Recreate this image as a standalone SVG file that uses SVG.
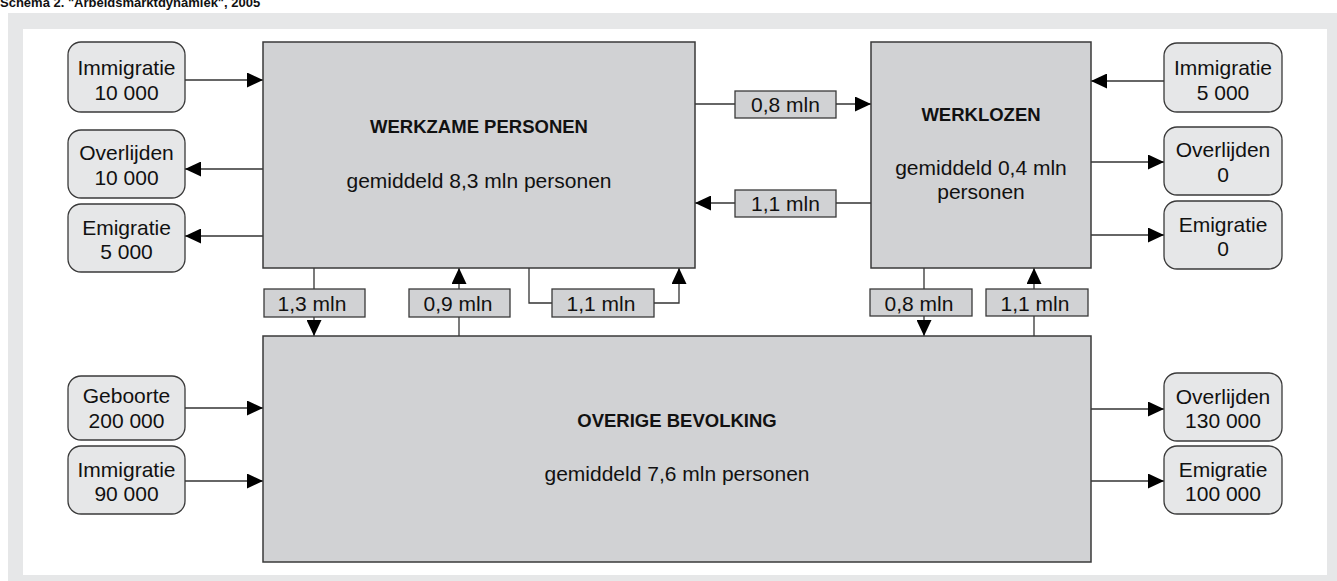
<svg xmlns="http://www.w3.org/2000/svg" width="1337" height="581" viewBox="0 0 1337 581">
<defs>
<marker id="ah" markerUnits="userSpaceOnUse" markerWidth="16" markerHeight="15" refX="16" refY="7.5" orient="auto">
<path d="M0,0 L16,7.5 L0,15 z" fill="#000"/>
</marker>
<style>
text{font-family:"Liberation Sans",Arial,sans-serif;fill:#111;}
.main{fill:#d1d2d4;stroke:#3a3a3a;stroke-width:1.5;}
.rb{fill:#e6e7e8;stroke:#3a3a3a;stroke-width:1.3;}
.lb{fill:#d1d2d4;stroke:#3a3a3a;stroke-width:1.3;}
.t{font-size:21px;text-anchor:middle;}
.b{font-size:18.5px;font-weight:bold;text-anchor:middle;}
.c{fill:none;stroke:#333;stroke-width:1.3;}
.a{marker-end:url(#ah);}
</style>
</defs>
<text x="0" y="7" style="font-size:13px;font-weight:bold;">Schema 2.  "Arbeidsmarktdynamiek", 2005</text>
<rect x="8" y="13" width="1329" height="568" fill="#e6e7e8"/>
<rect x="23" y="29" width="1304" height="546" fill="#fff"/>

<g id="connectors">
<line class="c a" x1="185" y1="80" x2="263" y2="80"/>
<line class="c a" x1="263" y1="169" x2="185" y2="169"/>
<line class="c a" x1="263" y1="236" x2="185" y2="236"/>
<line class="c" x1="695" y1="104" x2="735" y2="104"/>
<line class="c a" x1="836" y1="104" x2="871" y2="104"/>
<line class="c" x1="871" y1="203" x2="836" y2="203"/>
<line class="c a" x1="735" y1="203" x2="695" y2="203"/>
<line class="c a" x1="1164" y1="81" x2="1091" y2="81"/>
<line class="c a" x1="1091" y1="162" x2="1164" y2="162"/>
<line class="c a" x1="1091" y1="235" x2="1164" y2="235"/>
<line class="c" x1="314" y1="268" x2="314" y2="289"/>
<line class="c a" x1="314" y1="317" x2="314" y2="336"/>
<line class="c" x1="459" y1="336" x2="459" y2="317"/>
<line class="c a" x1="459" y1="289" x2="459" y2="268"/>
<polyline class="c" points="529,268 529,303 552,303"/>
<polyline class="c a" points="654,303 679,303 679,268"/>
<line class="c" x1="924" y1="268" x2="924" y2="289"/>
<line class="c a" x1="924" y1="316" x2="924" y2="336"/>
<line class="c" x1="1034" y1="336" x2="1034" y2="316"/>
<line class="c a" x1="1034" y1="289" x2="1034" y2="268"/>
<line class="c a" x1="185" y1="408" x2="263" y2="408"/>
<line class="c a" x1="185" y1="481" x2="263" y2="481"/>
<line class="c a" x1="1091" y1="409" x2="1164" y2="409"/>
<line class="c a" x1="1091" y1="481" x2="1164" y2="481"/>
</g>

<g id="werkzame">
<rect class="main" x="263" y="42" width="432" height="226"/>
<text class="b" x="479" y="133">WERKZAME PERSONEN</text>
<text class="t" x="479" y="188">gemiddeld 8,3 mln personen</text>
</g>
<g id="werklozen">
<rect class="main" x="871" y="42" width="220" height="226"/>
<text class="b" x="981" y="121">WERKLOZEN</text>
<text class="t" x="981" y="175">gemiddeld 0,4 mln</text>
<text class="t" x="981" y="199">personen</text>
</g>
<g id="overige">
<rect class="main" x="263" y="336" width="828" height="226"/>
<text class="b" x="677" y="427">OVERIGE BEVOLKING</text>
<text class="t" x="677" y="481">gemiddeld 7,6 mln personen</text>
</g>

<g id="imm-wp">
<rect class="rb" x="68" y="42" width="117" height="70" rx="13"/>
<text class="t" x="126.5" y="75">Immigratie</text>
<text class="t" x="126.5" y="100">10 000</text>
</g>
<g id="overl-wp">
<rect class="rb" x="68" y="130" width="117" height="68" rx="13"/>
<text class="t" x="126.5" y="160">Overlijden</text>
<text class="t" x="126.5" y="185">10 000</text>
</g>
<g id="emig-wp">
<rect class="rb" x="68" y="204" width="117" height="68" rx="13"/>
<text class="t" x="126.5" y="235">Emigratie</text>
<text class="t" x="126.5" y="259">5 000</text>
</g>
<g id="imm-wk">
<rect class="rb" x="1164" y="43" width="118" height="69" rx="13"/>
<text class="t" x="1223" y="75">Immigratie</text>
<text class="t" x="1223" y="100">5 000</text>
</g>
<g id="overl-wk">
<rect class="rb" x="1164" y="127" width="118" height="68" rx="13"/>
<text class="t" x="1223" y="157">Overlijden</text>
<text class="t" x="1223" y="182">0</text>
</g>
<g id="emig-wk">
<rect class="rb" x="1164" y="201" width="118" height="68" rx="13"/>
<text class="t" x="1223" y="232">Emigratie</text>
<text class="t" x="1223" y="256">0</text>
</g>
<g id="geb-ob">
<rect class="rb" x="68" y="376" width="117" height="64" rx="13"/>
<text class="t" x="126.5" y="403">Geboorte</text>
<text class="t" x="126.5" y="428">200 000</text>
</g>
<g id="imm-ob">
<rect class="rb" x="68" y="446" width="117" height="68" rx="13"/>
<text class="t" x="126.5" y="477">Immigratie</text>
<text class="t" x="126.5" y="501">90 000</text>
</g>
<g id="overl-ob">
<rect class="rb" x="1164" y="373" width="118" height="68" rx="13"/>
<text class="t" x="1223" y="404">Overlijden</text>
<text class="t" x="1223" y="428">130 000</text>
</g>
<g id="emig-ob">
<rect class="rb" x="1164" y="446" width="118" height="68" rx="13"/>
<text class="t" x="1223" y="477">Emigratie</text>
<text class="t" x="1223" y="501">100 000</text>
</g>

<g id="lbl-wp-wk">
<rect class="lb" x="735" y="91" width="101" height="27"/>
<text class="t" x="785.5" y="112">0,8 mln</text>
</g>
<g id="lbl-wk-wp">
<rect class="lb" x="735" y="190" width="101" height="27"/>
<text class="t" x="785.5" y="211">1,1 mln</text>
</g>
<g id="lbl-wp-ob">
<rect class="lb" x="264" y="289" width="101" height="28"/>
<text class="t" x="312" y="311">1,3 mln</text>
</g>
<g id="lbl-ob-wp">
<rect class="lb" x="409" y="289" width="101" height="28"/>
<text class="t" x="458" y="311">0,9 mln</text>
</g>
<g id="lbl-wp-wp">
<rect class="lb" x="552" y="289" width="102" height="28"/>
<text class="t" x="601" y="311">1,1 mln</text>
</g>
<g id="lbl-wk-ob">
<rect class="lb" x="870" y="289" width="102" height="27"/>
<text class="t" x="919" y="311">0,8 mln</text>
</g>
<g id="lbl-ob-wk">
<rect class="lb" x="986" y="289" width="102" height="27"/>
<text class="t" x="1035" y="311">1,1 mln</text>
</g>
</svg>
